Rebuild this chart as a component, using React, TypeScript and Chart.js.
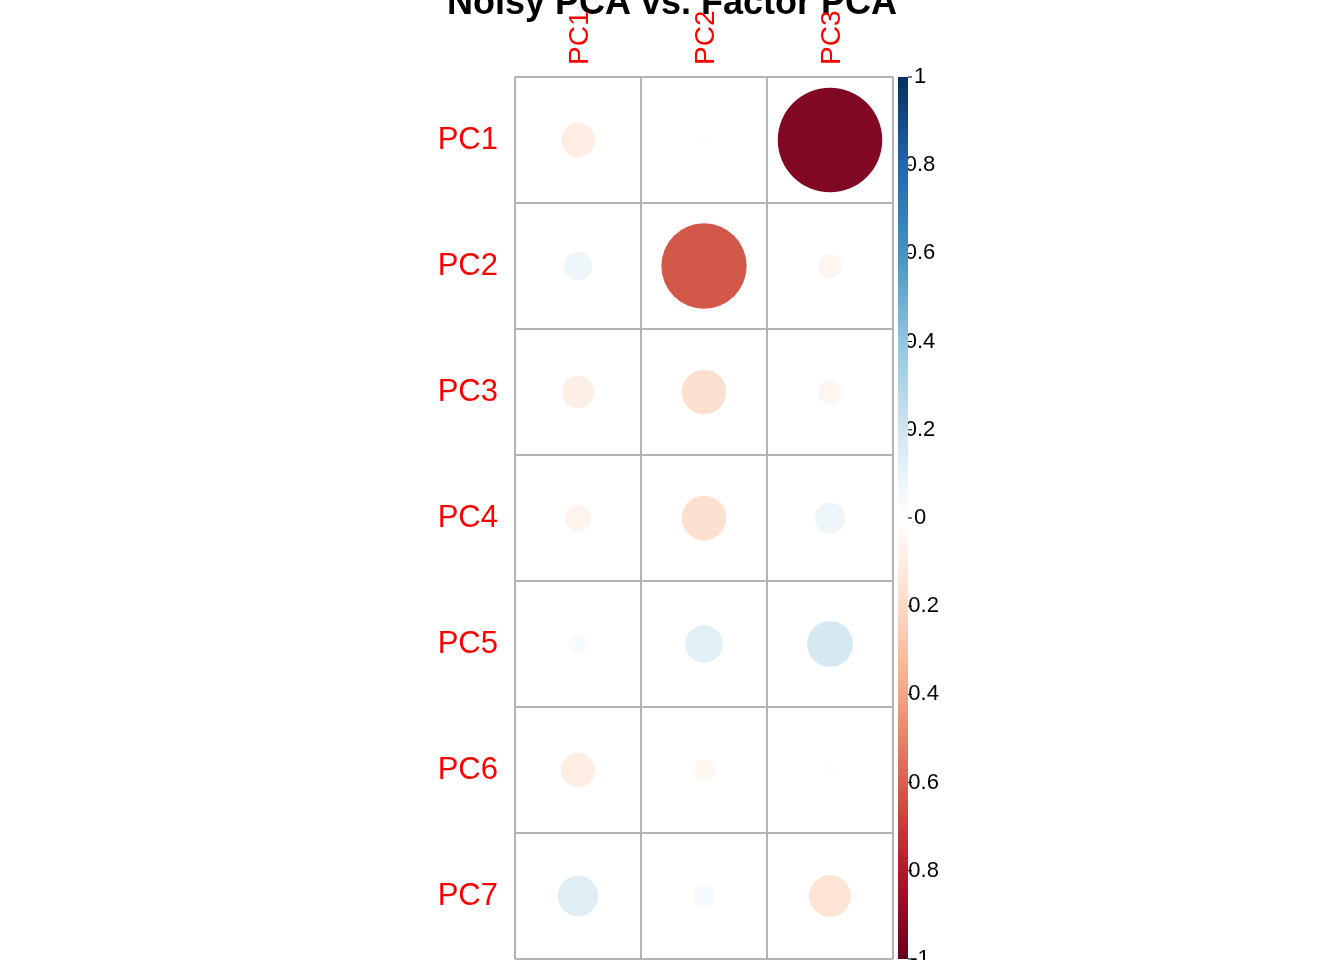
import { useEffect, useRef } from "react"
import { Chart, registerables } from "chart.js"

Chart.register(...registerables)

const rowLabels = ["PC1", "PC2", "PC3", "PC4", "PC5", "PC6", "PC7"]
const colLabels = ["PC1", "PC2", "PC3"]
// correlation per row, one array per column
const colPC1 = [-0.1, 0.07, -0.09, -0.06, 0.03, -0.1, 0.14]
const colPC2 = [-0.01, -0.62, -0.17, -0.17, 0.12, -0.04, 0.04]
const colPC3 = [-0.93, -0.05, -0.05, 0.08, 0.18, -0.01, -0.15]
const barTicks = [1, 0.8, 0.6, 0.4, 0.2, 0, -0.2, -0.4, -0.6, -0.8, -1]

const palette = ["#67001F", "#B2182B", "#D6604D", "#F4A582", "#FDDBC7", "#FFFFFF", "#D1E5F0", "#92C5DE", "#4393C3", "#2166AC", "#053061"]

function hex(h: string) {
  return [1, 3, 5].map((i) => parseInt(h.slice(i, i + 2), 16))
}
function colorFor(v: number) {
  const t = ((v + 1) / 2) * (palette.length - 1)
  const i = Math.min(Math.floor(t), palette.length - 2)
  const f = t - i
  const a = hex(palette[i]), b = hex(palette[i + 1])
  const c = a.map((x, k) => Math.round(x + (b[k] - x) * f))
  return `rgb(${c[0]},${c[1]},${c[2]})`
}

const columns = [colPC1, colPC2, colPC3]
const points = columns.flatMap((col, ci) => col.map((v, ri) => ({ x: ci + 1, y: ri + 1, v })))

const decor = {
  id: "decor",
  beforeDatasetsDraw(chart: any) {
    const { ctx } = chart
    const xs = chart.scales.x, ys = chart.scales.y
    ctx.save()
    ctx.strokeStyle = "#B4B4B4"
    ctx.lineWidth = 2
    for (let i = 0; i <= colLabels.length; i++) {
      const px = xs.getPixelForValue(i + 0.5)
      ctx.beginPath(); ctx.moveTo(px, ys.getPixelForValue(0.5)); ctx.lineTo(px, ys.getPixelForValue(7.5)); ctx.stroke()
    }
    for (let j = 0; j <= rowLabels.length; j++) {
      const py = ys.getPixelForValue(j + 0.5)
      ctx.beginPath(); ctx.moveTo(xs.getPixelForValue(0.5), py); ctx.lineTo(xs.getPixelForValue(3.5), py); ctx.stroke()
    }
    ctx.restore()
  },
  afterDraw(chart: any) {
    const { ctx } = chart
    const xs = chart.scales.x, ys = chart.scales.y
    ctx.save()
    ctx.fillStyle = "#000"
    ctx.font = "bold 36px 'Liberation Sans', Arial, sans-serif"
    ctx.textAlign = "center"
    ctx.textBaseline = "alphabetic"
    ctx.fillText("Noisy PCA vs. Factor PCA", 672, 14)

    ctx.fillStyle = "#FF0000"
    ctx.font = "28px 'Liberation Sans', Arial, sans-serif"
    colLabels.forEach((l, i) => {
      ctx.save()
      ctx.translate(xs.getPixelForValue(i + 1) + 10, 65)
      ctx.rotate(-Math.PI / 2)
      ctx.textAlign = "left"
      ctx.fillText(l, 0, 0)
      ctx.restore()
    })
    ctx.font = "31px 'Liberation Sans', Arial, sans-serif"
    ctx.textAlign = "right"
    ctx.textBaseline = "middle"
    rowLabels.forEach((l, j) => ctx.fillText(l, 498, ys.getPixelForValue(j + 1)))

    // colour bar
    const top = ys.getPixelForValue(0.5), bot = ys.getPixelForValue(7.5)
    const bx = 898, bw = 10
    ctx.fillStyle = "#000"
    ctx.font = "22px 'Liberation Sans', Arial, sans-serif"
    ctx.textAlign = "center"
    ctx.strokeStyle = "#000"
    ctx.lineWidth = 1
    barTicks.forEach((t) => {
      const py = bot + ((t + 1) / 2) * (top - bot)
      ctx.fillText(String(t), 920, py)
      ctx.beginPath(); ctx.moveTo(bx + bw, py); ctx.lineTo(bx + bw + 4, py); ctx.stroke()
    })
    const g = ctx.createLinearGradient(0, bot, 0, top)
    palette.forEach((c, i) => g.addColorStop(i / (palette.length - 1), c))
    ctx.fillStyle = g
    ctx.fillRect(bx, top, bw, bot - top)
    ctx.restore()
  },
}

export default function App() {
  const ref = useRef<HTMLCanvasElement>(null)
  useEffect(() => {
    document.body.style.margin = "0"
    if (!ref.current) return
    const chart = new Chart(ref.current, {
      type: "scatter",
      data: {
        datasets: [
          {
            data: points,
            backgroundColor: points.map((p) => colorFor(p.v)),
            borderWidth: 0,
            pointStyle: "circle",
            pointRadius: (c: any) => {
              const p = points[c.dataIndex]
              if (!p) return 0
              const cell = Math.abs(c.chart.scales.x.getPixelForValue(2) - c.chart.scales.x.getPixelForValue(1))
              return cell * 0.43 * Math.sqrt(Math.abs(p.v))
            },
          } as any,
        ],
      },
      options: {
        animation: false,
        responsive: false,
        layout: { padding: { left: 515, right: 451, top: 77, bottom: 1 } },
        plugins: { legend: { display: false }, tooltip: { enabled: false } },
        scales: {
          x: { type: "linear", min: 0.5, max: 3.5, display: false },
          y: { type: "linear", min: 0.5, max: 7.5, reverse: true, display: false },
        },
      },
      plugins: [decor],
    })
    return () => chart.destroy()
  }, [])
  return <canvas ref={ref} width={1344} height={960} style={{ display: "block" }} />
}
